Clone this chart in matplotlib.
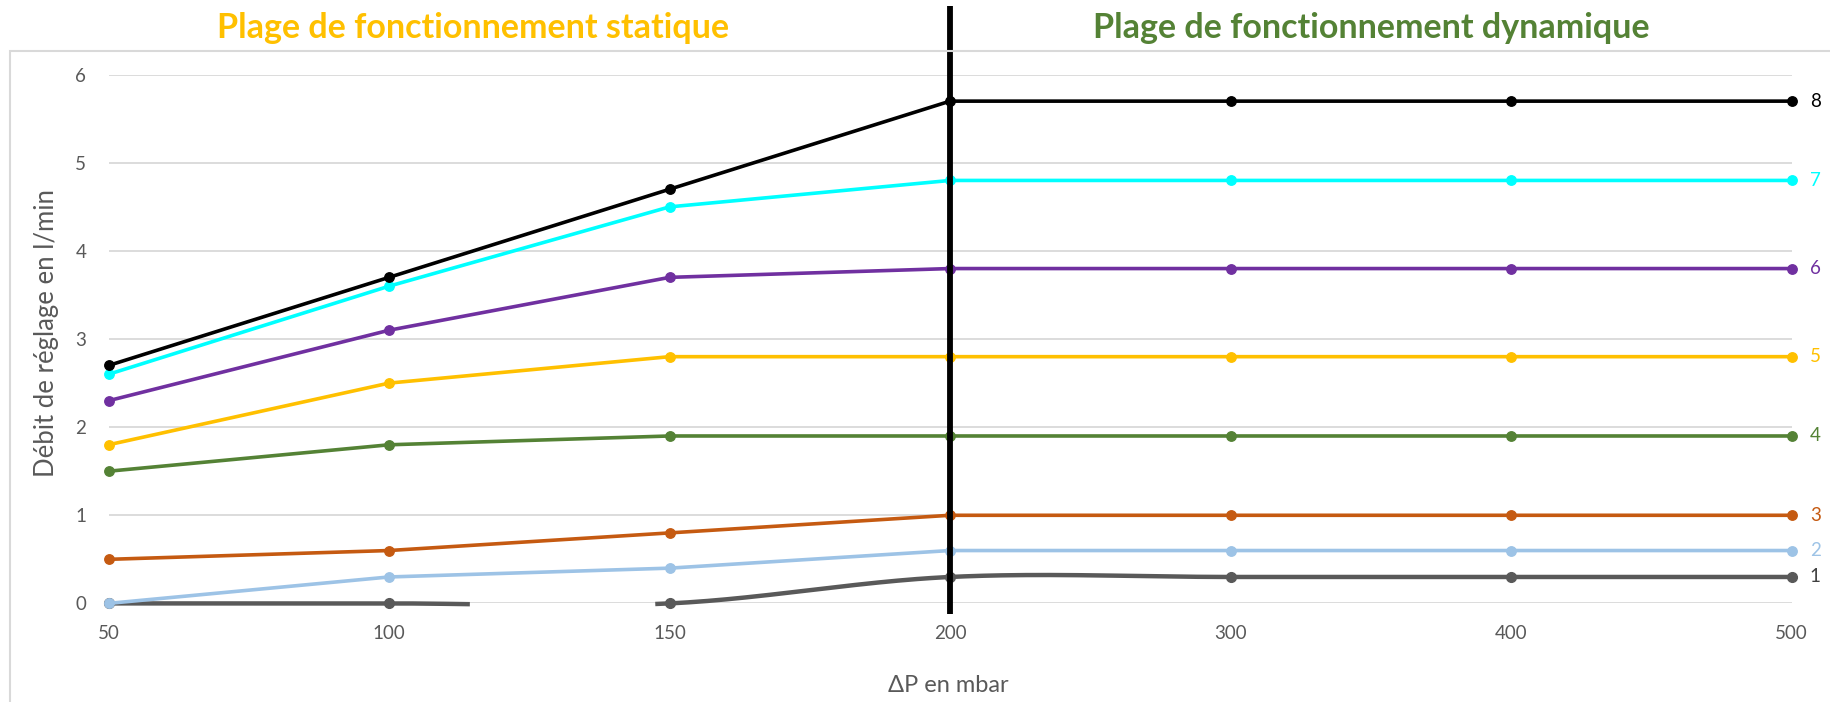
import numpy as np
import matplotlib
matplotlib.use("Agg")
import matplotlib.pyplot as plt
from matplotlib.patches import Rectangle
from matplotlib.transforms import blended_transform_factory

# ---------------- data ----------------
pressure = ["50", "100", "150", "200", "300", "400", "500"]
series_names = ["1", "2", "3", "4", "5", "6", "7", "8"]
s1 = [0.0, 0.0, 0.0, 0.3, 0.3, 0.3, 0.3]
s2 = [0.0, 0.3, 0.4, 0.6, 0.6, 0.6, 0.6]
s3 = [0.5, 0.6, 0.8, 1.0, 1.0, 1.0, 1.0]
s4 = [1.5, 1.8, 1.9, 1.9, 1.9, 1.9, 1.9]
s5 = [1.8, 2.5, 2.8, 2.8, 2.8, 2.8, 2.8]
s6 = [2.3, 3.1, 3.7, 3.8, 3.8, 3.8, 3.8]
s7 = [2.6, 3.6, 4.5, 4.8, 4.8, 4.8, 4.8]
s8 = [2.7, 3.7, 4.7, 5.7, 5.7, 5.7, 5.7]
all_series = [s1, s2, s3, s4, s5, s6, s7, s8]
y_ticks = [0, 1, 2, 3, 4, 5, 6]

# ---------------- style ----------------
colors = ["#595959", "#9DC3E6", "#C55A11", "#548235", "#FFC000", "#7030A0", "#00FFFF", "#000000"]
label_colors = ["#404040", "#9DC3E6", "#C55A11", "#548235", "#FFC000", "#7030A0", "#00FFFF", "#000000"]
GAP_S1 = (1.29, 1.94)   # hidden part of series 1 (category-index units)
FONT = ["Lato", "DejaVu Sans"]
TXT = "#595959"

W, H = 1830, 702
fig = plt.figure(figsize=(W / 100, H / 100), dpi=100)
ax = fig.add_axes([108.5 / W, (H - 603.4) / H, (1791.6 - 108.5) / W, 528.7 / H])

x = np.arange(len(pressure))


def smooth(xs, ys, n=60):
    xs = np.asarray(xs, float)
    ys = np.asarray(ys, float)
    px = np.concatenate([[xs[0]], xs, [xs[-1]]])
    py = np.concatenate([[ys[0]], ys, [ys[-1]]])
    outx, outy = [], []
    t = np.linspace(0, 1, n)
    for i in range(len(xs) - 1):
        p0 = np.array([px[i + 1], py[i + 1]])
        p3 = np.array([px[i + 2], py[i + 2]])
        c1 = p0 + (np.array([px[i + 2], py[i + 2]]) - np.array([px[i], py[i]])) / 6
        c2 = p3 - (np.array([px[i + 3], py[i + 3]]) - np.array([px[i + 1], py[i + 1]])) / 6
        b = ((1 - t) ** 3)[:, None] * p0 + (3 * (1 - t) ** 2 * t)[:, None] * c1 \
            + (3 * (1 - t) * t ** 2)[:, None] * c2 + (t ** 3)[:, None] * p3
        outx.extend(b[:, 0])
        outy.extend(b[:, 1])
    return np.array(outx), np.array(outy)


for k, (vals, col) in enumerate(zip(all_series, colors)):
    if k == 0:
        sx, sy = smooth(x, vals)
        sy = np.where((sx > GAP_S1[0]) & (sx < GAP_S1[1]), np.nan, sy)
        ax.plot(sx, sy, color=col, lw=3.2, solid_capstyle="butt", clip_on=False, zorder=3 + k)
        ax.plot(x, vals, ls="none", marker="o", ms=7, color=col, clip_on=False, zorder=3 + k)
    else:
        ax.plot(x, vals, color=col, lw=2.6, marker="o", ms=6.8, clip_on=False, zorder=3 + k)
    ax.annotate(series_names[k], xy=(x[-1], vals[-1]), xytext=(17, 0), textcoords="offset points",
                ha="center", va="center", fontsize=13.5, color=label_colors[k], family=FONT,
                annotation_clip=False)

ax.set_xlim(0, len(pressure) - 1)
ax.set_ylim(0, 6)
ax.set_xticks(x)
ax.set_xticklabels(pressure)
ax.set_yticks(y_ticks)
ax.set_yticklabels([str(v) for v in y_ticks])
ax.tick_params(axis="both", length=0, labelsize=13.5, labelcolor=TXT)
ax.tick_params(axis="x", pad=15.5)
ax.tick_params(axis="y", pad=16)
for lab in ax.get_xticklabels() + ax.get_yticklabels():
    lab.set_family(FONT)
ax.yaxis.grid(True, color="#D9D9D9", lw=1.3)
ax.set_axisbelow(True)
for sp in ax.spines.values():
    sp.set_visible(False)

# vertical separator at 200 mbar
tr = blended_transform_factory(ax.transData, ax.transAxes)
ax.plot([x[pressure.index("200")]] * 2, [-0.02, 1.13], transform=tr, color="black", lw=4.2,
        clip_on=False, zorder=20, solid_capstyle="butt")

# chart border
fig.patches.append(Rectangle((10 / W, -0.05), 1.2, 0.05 + (H - 51) / H, transform=fig.transFigure,
                             fill=False, edgecolor="#D9D9D9", lw=1.5, zorder=0))

fig.text(47 / W, 1 - 333 / H, "Débit de réglage en l/min", rotation=90, ha="center", va="center",
         fontsize=18.5, color=TXT, family=FONT)
fig.text(948 / W, 1 - 685 / H, "ΔP en mbar", ha="center", va="center", fontsize=17, color=TXT,
         family=FONT)

fig.text(473 / W, 1 - 28 / H, "Plage de fonctionnement statique", ha="center", va="center",
         fontsize=24.5, color="#FFC000", family=FONT, fontweight="bold")
fig.text(1371 / W, 1 - 28 / H, "Plage de fonctionnement dynamique", ha="center", va="center",
         fontsize=24.5, color="#548235", family=FONT, fontweight="bold")

fig.savefig("out.png", dpi=100)
